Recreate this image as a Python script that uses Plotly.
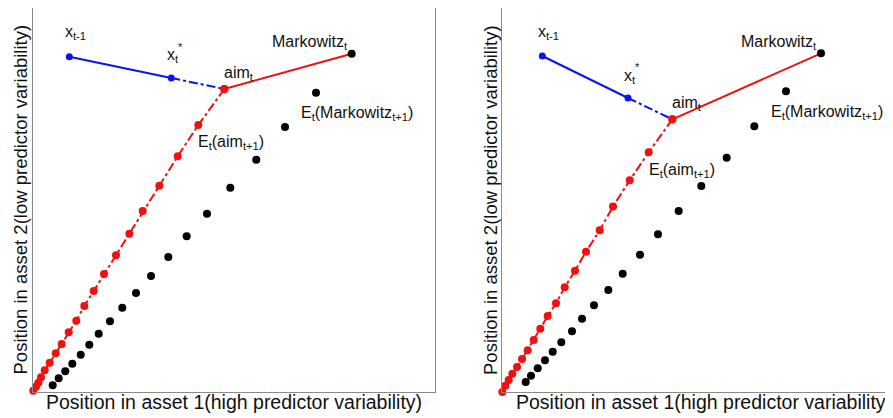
import plotly.graph_objects as go

# ---------------- data (arbitrary position units) ----------------
# Left panel
L_prev = [0.903, 8.705]          # x_{t-1}
L_star = [3.440, 8.150]          # x*_t
L_aim = [4.759, 7.863]           # aim_t
L_mark = [7.928, 8.783]          # Markowitz_t
L_black_x = [7.040, 6.269, 5.555, 4.908, 4.328, 3.823, 3.366, 2.935, 2.562,
             2.221, 1.915, 1.634, 1.400, 1.187, 0.978, 0.803, 0.639, 0.490]
L_black_y = [7.767, 6.873, 6.020, 5.291, 4.613, 4.024, 3.485, 2.989, 2.546,
             2.163, 1.809, 1.486, 1.199, 0.938, 0.704, 0.506, 0.323, 0.141]
L_red_x = [4.112, 3.600, 3.142, 2.729, 2.396, 2.065, 1.766, 1.510, 1.276,
           1.077, 0.888, 0.714, 0.565, 0.415, 0.291, 0.199, 0.132, 0.075, 0.007]
L_red_y = [6.925, 6.109, 5.343, 4.683, 4.092, 3.529, 3.041, 2.598, 2.207,
           1.824, 1.522, 1.217, 0.974, 0.730, 0.532, 0.349, 0.208, 0.104, 0.0]

# Right panel
R_prev = [1.010, 8.727]
R_star = [3.142, 7.636]
R_aim = [4.244, 7.083]
R_mark = [7.943, 8.797]
R_black_x = [7.072, 6.284, 5.597, 4.965, 4.403, 3.888, 3.440, 3.010, 2.652,
             2.296, 1.998, 1.749, 1.483, 1.269, 1.077, 0.896, 0.729, 0.597]
R_black_y = [7.810, 6.901, 6.086, 5.351, 4.701, 4.096, 3.566, 3.073, 2.649,
             2.252, 1.904, 1.577, 1.291, 1.047, 0.823, 0.616, 0.423, 0.260]
R_red_x = [3.657, 3.184, 2.769, 2.438, 2.097, 1.823, 1.567, 1.351, 1.144,
           0.960, 0.796, 0.647, 0.505, 0.381, 0.264, 0.174, 0.090, 0.015]
R_red_y = [6.226, 5.499, 4.818, 4.200, 3.644, 3.151, 2.719, 2.304, 1.974,
           1.644, 1.351, 1.083, 0.857, 0.649, 0.475, 0.312, 0.164, 0.0]

x_title = "Position in asset 1(high predictor variability)"
y_title = "Position in asset 2(low predictor variability)"

BLUE = "#0a14f0"
RED = "#f01010"
BLACK = "#000000"
FONT = "Liberation Sans, Arial, sans-serif"

fig = go.Figure()


def add_panel(xa, ya, prev, star, aim, mark, bx, by, rx, ry):
    common = dict(xaxis=xa, yaxis=ya, showlegend=False, cliponaxis=False,
                  hoverinfo="skip")
    # blue solid segment x_{t-1} -> x*_t
    fig.add_trace(go.Scatter(x=[prev[0], star[0]], y=[prev[1], star[1]],
                             mode="lines+markers",
                             line=dict(color=BLUE, width=2),
                             marker=dict(color=BLUE, size=7), **common))
    # blue dash-dot x*_t -> aim_t
    fig.add_trace(go.Scatter(x=[star[0], aim[0]], y=[star[1], aim[1]],
                             mode="lines",
                             line=dict(color=BLUE, width=2, dash="dashdot"),
                             **common))
    # red dash-dot path aim_t -> E_t(aim_{t+k})
    fig.add_trace(go.Scatter(x=[aim[0]] + rx, y=[aim[1]] + ry,
                             mode="lines+markers",
                             line=dict(color=RED, width=2, dash="dashdot"),
                             marker=dict(color=RED, size=8), **common))
    # red solid aim_t -> Markowitz_t
    fig.add_trace(go.Scatter(x=[aim[0], mark[0]], y=[aim[1], mark[1]],
                             mode="lines",
                             line=dict(color=RED, width=2), **common))
    # black expected Markowitz points
    fig.add_trace(go.Scatter(x=[mark[0]] + bx, y=[mark[1]] + by,
                             mode="markers",
                             marker=dict(color=BLACK, size=8), **common))
    # aim marker on top
    fig.add_trace(go.Scatter(x=[aim[0]], y=[aim[1]], mode="markers",
                             marker=dict(color=RED, size=8), **common))

    def ann(pt, text, xs, ys, xanchor="left", size=16):
        fig.add_annotation(x=pt[0], y=pt[1], xref=xa, yref=ya, text=text,
                           showarrow=False, xanchor=xanchor, yanchor="middle",
                           xshift=xs, yshift=ys,
                           font=dict(family=FONT, size=size, color="#111"))

    ann(prev, "x<sub>t-1</sub>", -6, 24)
    ann(star, "x<sub>t</sub>", -6, 22)
    ann(star, "*", 5, 31, size=11)
    ann(aim, "aim<sub>t</sub>", -2, 16)
    ann(mark, "Markowitz<sub>t</sub>", -2, 11, xanchor="right")
    ann([bx[0], by[0]], "E<sub>t</sub>(Markowitz<sub>t+1</sub>)", -17, -21)
    ann([rx[0], ry[0]], "E<sub>t</sub>(aim<sub>t+1</sub>)", -2, -18)


add_panel("x", "y", L_prev, L_star, L_aim, L_mark,
          L_black_x, L_black_y, L_red_x, L_red_y)
add_panel("x2", "y2", R_prev, R_star, R_aim, R_mark,
          R_black_x, R_black_y, R_red_x, R_red_y)

# page has an 8px body margin; figure is laid out in page coords minus 8
W, H = 885, 410
axis_common = dict(showline=True, linecolor="#8a8a8a", linewidth=1,
                   showgrid=False, zeroline=False, showticklabels=False,
                   ticks="")
xt_font = dict(family=FONT, size=19.5, color="#111")
yt_font = dict(family=FONT, size=18.5, color="#111")

fig.update_layout(
    width=W, height=H,
    margin=dict(l=0, r=0, t=0, b=26),
    paper_bgcolor="white", plot_bgcolor="white",
    xaxis=dict(domain=[25 / W, 427 / W], range=[0, 10], mirror=True,
               anchor="y", **axis_common),
    yaxis=dict(domain=[0, 1], range=[-0.034, 9.974], mirror=True,
               anchor="x", **axis_common),
    xaxis2=dict(domain=[493.7 / W, 1], range=[0, (W - 493.7) / 40.2],
                mirror=True, anchor="y2", **axis_common),
    yaxis2=dict(domain=[0, 1], range=[0, 9.974], mirror=False,
                anchor="x2", **axis_common),
)

# axis titles
fig.add_annotation(xref="x domain", yref="paper", x=0.5, y=0, yshift=-10,
                   text=x_title, showarrow=False, xanchor="center",
                   yanchor="middle", font=xt_font)
fig.add_annotation(xref="x2 domain", yref="paper",
                   x=202.3 / (W - 493.7), y=0, yshift=-10,
                   text=x_title, showarrow=False, xanchor="center",
                   yanchor="middle", font=xt_font)
fig.add_annotation(xref="x domain", yref="y domain", x=0, y=0.5, xshift=-13.5,
                   text=y_title, showarrow=False, textangle=-90,
                   xanchor="center", yanchor="middle", font=yt_font)
fig.add_annotation(xref="x2 domain", yref="y2 domain", x=0, y=0.5,
                   xshift=-11.7, text=y_title, showarrow=False,
                   textangle=-90, xanchor="center", yanchor="middle",
                   font=yt_font)

fig.write_html("out.html")
